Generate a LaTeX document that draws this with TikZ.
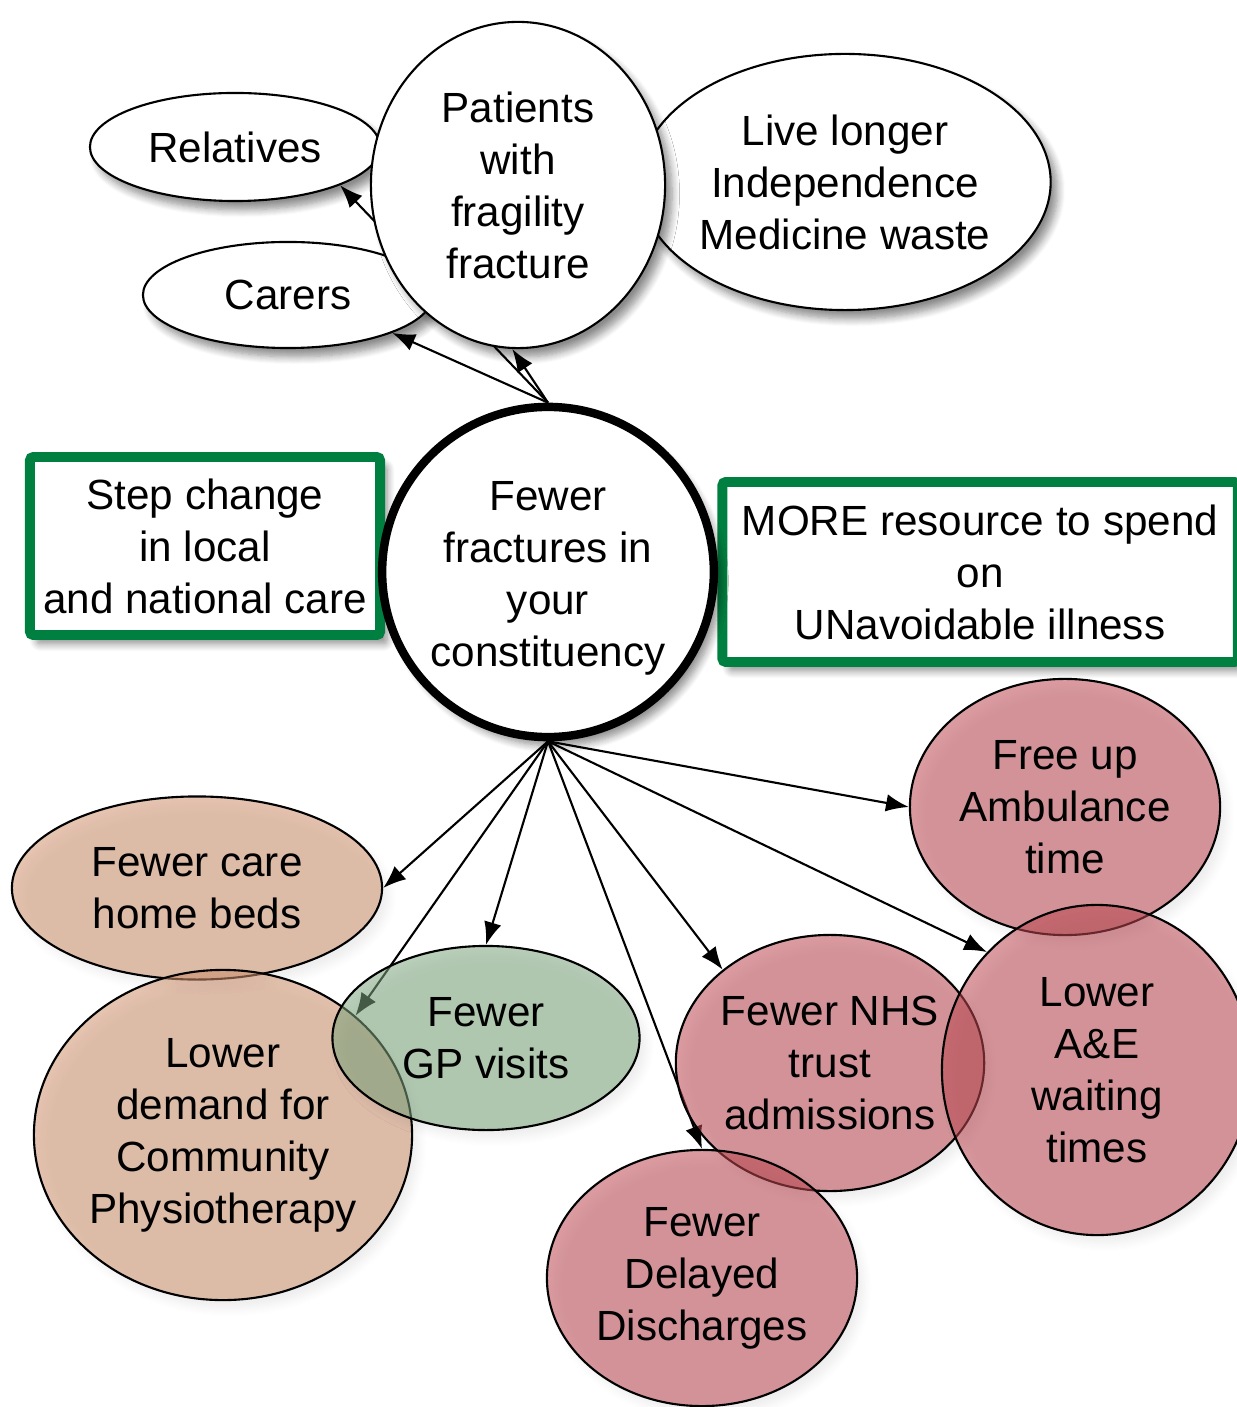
\documentclass[tikz,border=0pt]{standalone}
\usepackage{fontspec}
\setmainfont{Liberation Sans}
\usetikzlibrary{shapes.geometric,arrows.meta,shadows.blur}
\pgfdeclarelayer{bg}
\pgfsetlayers{bg,main}
\definecolor{boxgreen}{RGB}{0,128,64}
\definecolor{peach}{RGB}{206,145,110}
\definecolor{sage}{RGB}{125,165,125}
\definecolor{rose}{RGB}{188,72,82}
\begin{document}
\begin{tikzpicture}[x=0.01cm, y=-0.01cm,
  every node/.style={font=\fontsize{12}{14.8}\selectfont, align=center, inner sep=0pt},
  bubble/.style={ellipse, draw, line width=0.6pt, fill=white,
    blur shadow={shadow xshift=2pt, shadow yshift=-2.5pt, shadow blur steps=8, shadow opacity=45}},
  tinted/.style={ellipse, draw, line width=0.6pt, fill=#1, fill opacity=0.55, text opacity=1,
    blur shadow={shadow xshift=2pt, shadow yshift=-2.5pt, shadow blur steps=8, shadow opacity=12}},
  framebox/.style={rectangle, draw=boxgreen, line width=2.8pt, fill=white, rounded corners=1pt,
    blur shadow={shadow xshift=2pt, shadow yshift=-2.5pt, shadow blur steps=8, shadow opacity=45}},
  link/.style={line width=0.6pt, -{Latex[length=6.5pt, width=5pt]}}]
\useasboundingbox (0,0) rectangle (1236,1407);
% top row
\node[bubble, minimum width=2.9cm, minimum height=1.08cm] (rel) at (235,147){Relatives};
\node[bubble, minimum width=2.9cm, minimum height=1.06cm] (car) at (288,295){Carers};
\node[bubble, minimum width=4.1cm, minimum height=2.56cm] (live) at (845,182){Live longer\\Independence\\Medicine waste};
\node[bubble, minimum width=2.94cm, minimum height=3.26cm] (pat) at (518,185){Patients\\with\\fragility\\fracture};
% middle row
\node[framebox, minimum width=3.5cm, minimum height=1.78cm] (step) at (205,546){Step change\\in local\\and national care};
\node[framebox, minimum width=5.15cm, minimum height=1.8cm] (more) at (980,572){MORE resource to spend\\on\\UNavoidable illness};
\node[ellipse, draw, line width=2.4pt, fill=white, minimum width=3.26cm, minimum height=3.3cm,
  blur shadow={shadow xshift=2pt, shadow yshift=-2.5pt, shadow blur steps=8, shadow opacity=45}] (few) at (548,572){\rule{0pt}{12pt}Fewer\\fractures in\\your\\constituency};
% bottom
\node[tinted=peach, minimum width=3.7cm, minimum height=1.83cm] (care) at (197,888){Fewer care\\home beds};
\node[tinted=peach, minimum width=3.7cm, minimum height=3.3cm] (phys) at (223,1135){Lower\\demand for\\Community\\Physiotherapy};
\node[tinted=sage, minimum width=3.07cm, minimum height=1.84cm] (gp) at (486,1038){Fewer\\GP visits};
\node[tinted=rose, minimum width=3.1cm, minimum height=2.56cm] (amb) at (1065,807){Free up\\Ambulance\\time};
\node[tinted=rose, minimum width=3.07cm, minimum height=2.56cm] (nhs) at (830,1063){Fewer NHS\\trust\\admissions};
\node[tinted=rose, minimum width=3.1cm, minimum height=3.3cm] (ae) at (1097,1070){Lower\\A\&E\\waiting\\times};
\node[tinted=rose, minimum width=3.1cm, minimum height=2.56cm] (dd) at (702,1278){Fewer\\Delayed\\Discharges};
% connectors
\begin{pgfonlayer}{bg}
\draw[link](few.north) -- (car.340);
\draw[link](few.north) -- (pat.268);
\draw[link](few.north) -- (rel.340);
\draw[link](few.south) -- (care.east);
\draw[link](few.south) -- (phys.42);
\draw[link](few.south) -- (gp.north);
\draw[link](few.south) -- (dd.north);
\draw[link](few.south) -- (nhs.139);
\draw[link](few.south) -- (ae.133);
\draw[link](few.south) -- (amb.west);
\end{pgfonlayer}
\end{tikzpicture}
\end{document}
